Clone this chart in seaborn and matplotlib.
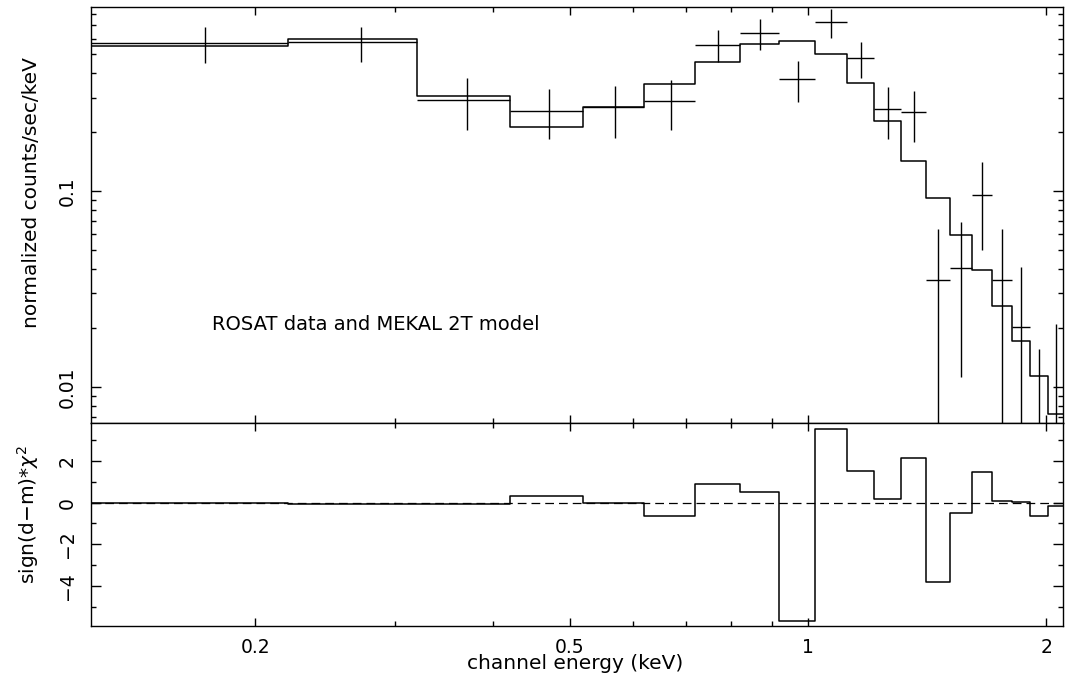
import numpy as np
import pandas as pd
import matplotlib
matplotlib.use("Agg")
import matplotlib.pyplot as plt
import matplotlib.ticker as mticker
import seaborn as sns

# ---------------- data ----------------
energy_edges = [0.12, 0.22, 0.32, 0.42, 0.52, 0.62, 0.72, 0.82, 0.92, 1.02,
                1.12, 1.21, 1.31, 1.41, 1.51, 1.61, 1.71, 1.81, 1.91, 2.01, 2.11]
data_energy = [0.173, 0.272, 0.37, 0.47, 0.57, 0.67, 0.77, 0.87, 0.97, 1.07,
               1.165, 1.26, 1.36, 1.46, 1.56, 1.66, 1.76, 1.86, 1.96, 2.06]
data_rate = [0.567, 0.575, 0.290, 0.257, 0.269, 0.288, 0.556, 0.638, 0.372, 0.726,
             0.479, 0.262, 0.252, 0.0350, 0.0406, 0.0954, 0.0350, 0.0202, 0.004, 0.004]
data_err_lo = [0.448, 0.454, 0.205, 0.184, 0.186, 0.205, 0.454, 0.524, 0.284, 0.605,
               0.378, 0.184, 0.178, 1e-4, 0.0113, 0.050, 1e-4, 1e-4, 1e-4, 1e-4]
data_err_hi = [0.689, 0.689, 0.376, 0.330, 0.344, 0.368, 0.662, 0.754, 0.460, 0.845,
               0.578, 0.338, 0.325, 0.0640, 0.0692, 0.141, 0.0640, 0.0411, 0.0156, 0.0210]
model_rate = [0.552, 0.594, 0.306, 0.213, 0.267, 0.352, 0.454, 0.560, 0.582, 0.498,
              0.354, 0.228, 0.143, 0.0918, 0.0596, 0.0394, 0.0260, 0.0172, 0.0114, 0.0073]
residuals = [0.0, -0.06, -0.06, 0.34, 0.0, -0.64, 0.88, 0.51, -5.69, 3.54,
             1.54, 0.16, 2.15, -3.80, -0.48, 1.49, 0.10, 0.02, -0.65, -0.16]

x_major = [0.2, 0.5, 1, 2]
x_minor = [0.3, 0.4, 0.6, 0.7, 0.8, 0.9]
y_major_top = [0.01, 0.1]
y_minor_top = [0.007, 0.008, 0.009, 0.02, 0.03, 0.04, 0.05, 0.06, 0.07, 0.08, 0.09,
               0.2, 0.3, 0.4, 0.5, 0.6, 0.7, 0.8]
y_major_bot = [-4, -2, 0, 2]
y_minor_bot = [-5, -3, -1, 1, 3]

# ---------------- style ----------------
sns.set_style("ticks")
plt.rcParams["font.family"] = ["DejaVu Sans"]
plt.rcParams["axes.edgecolor"] = "black"
plt.rcParams["axes.linewidth"] = 1.0
plt.rcParams["text.color"] = "black"
plt.rcParams["axes.labelcolor"] = "black"
plt.rcParams["xtick.color"] = "black"
plt.rcParams["ytick.color"] = "black"

W, H = 1070, 689
fig = plt.figure(figsize=(W / 100, H / 100), dpi=100)
ax1 = fig.add_axes([91 / W, 1 - 423 / H, 972 / W, 416 / H])
ax2 = fig.add_axes([91 / W, 1 - 626 / H, 972 / W, 203 / H], sharex=ax1)

for ax in (ax1, ax2):
    ax.set_xscale("log")
ax1.set_yscale("log")

# ---------------- top panel ----------------
model_df = pd.DataFrame({"energy": energy_edges,
                         "rate": model_rate + [model_rate[-1]]})
sns.lineplot(data=model_df, x="energy", y="rate", ax=ax1, drawstyle="steps-post",
             estimator=None, sort=False, color="black", lw=1.1)

x = np.array(data_energy)
y = np.array(data_rate)
e = np.array(energy_edges)
lo = np.array(data_err_lo)
hi = np.array(data_err_hi)
ax1.errorbar(x, y, yerr=[y - lo, hi - y], xerr=[x - e[:-1], e[1:] - x],
             fmt="none", ecolor="black", elinewidth=1.0, capsize=0)

ax1.set_xlim(0.124, 2.10)
ax1.set_ylim(0.00655, 0.869)

ax1.text(0.1245, 0.2356, "ROSAT data and MEKAL 2T model", transform=ax1.transAxes,
         fontsize=14, va="center", ha="left", color="black")

# ---------------- bottom panel ----------------
res_df = pd.DataFrame({"energy": energy_edges,
                       "res": residuals + [residuals[-1]]})
ax2.axhline(0, ls=(0, (7, 4)), color="black", lw=0.9)
sns.lineplot(data=res_df, x="energy", y="res", ax=ax2, drawstyle="steps-post",
             estimator=None, sort=False, color="black", lw=1.1)
ax2.set_ylim(-5.93, 3.83)

# ---------------- ticks ----------------
fmt = mticker.FuncFormatter(lambda v, _: f"{v:g}".replace("-", "\u2212"))
ax1.xaxis.set_major_locator(mticker.FixedLocator(x_major))
ax1.xaxis.set_minor_locator(mticker.FixedLocator(x_minor))
ax1.xaxis.set_major_formatter(fmt)
ax1.xaxis.set_minor_formatter(mticker.NullFormatter())
ax1.yaxis.set_major_locator(mticker.FixedLocator(y_major_top))
ax1.yaxis.set_minor_locator(mticker.FixedLocator(y_minor_top))
ax1.yaxis.set_major_formatter(fmt)
ax1.yaxis.set_minor_formatter(mticker.NullFormatter())
ax2.yaxis.set_major_locator(mticker.FixedLocator(y_major_bot))
ax2.yaxis.set_minor_locator(mticker.FixedLocator(y_minor_bot))
ax2.yaxis.set_major_formatter(fmt)

for ax in (ax1, ax2):
    ax.tick_params(which="both", direction="in", top=True, right=True,
                   colors="black", labelcolor="black", width=1.0, labelsize=13.5)
    ax.tick_params(axis="x", which="major", length=6, pad=8.3)
    ax.tick_params(axis="x", which="minor", length=3.5)
    ax.tick_params(axis="y", which="major", length=7, pad=10, labelrotation=90)
    ax.tick_params(axis="y", which="minor", length=3.5)
    for lab in ax.get_yticklabels():
        lab.set_va("center")
    for s in ax.spines.values():
        s.set_color("black")
        s.set_linewidth(1.0)

ax1.tick_params(labelbottom=False)
ax1.set_xlabel("")

ax1.set_ylabel("normalized counts/sec/keV", fontsize=14.5, color="black")
ax1.yaxis.set_label_coords(-0.0514, 0.555)
ax2.set_ylabel("sign(d\u2212m)*$\\chi^2$", fontsize=14.5, color="black")
ax2.yaxis.set_label_coords(-0.0514, 0.547)
ax2.set_xlabel("channel energy (keV)", fontsize=14.5, color="black")
ax2.xaxis.set_label_coords(0.498, -0.14)

fig.savefig("out.png", dpi=100)
